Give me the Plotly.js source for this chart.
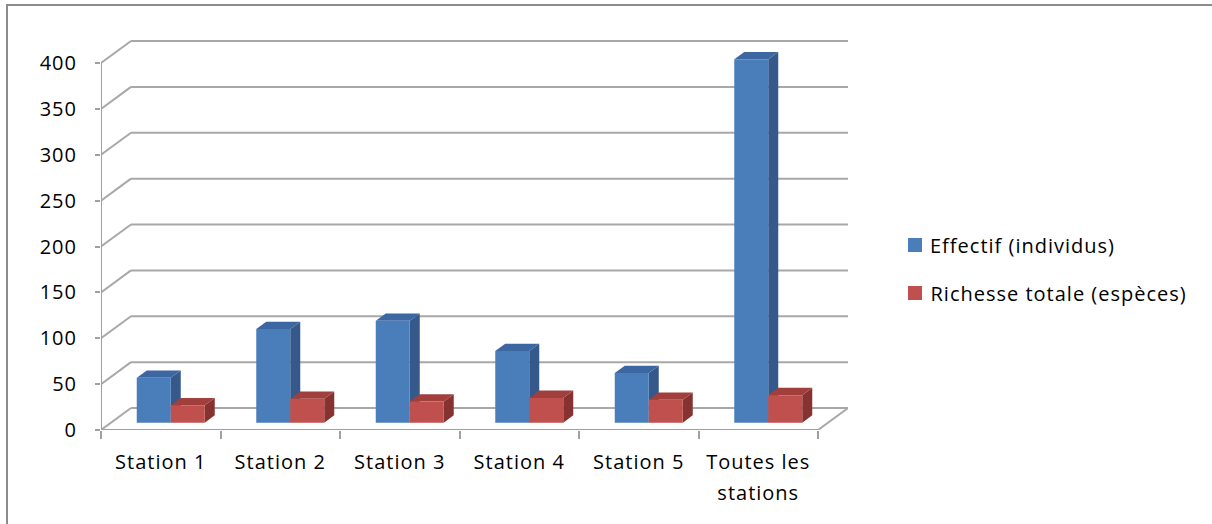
<!DOCTYPE html>
<html>
<head>
<meta charset="utf-8">
<script src="https://cdn.plot.ly/plotly-3.0.1.min.js"></script>
<style>
  html, body { margin: 0; padding: 0; background: #ffffff; }
  #wrap { position: relative; width: 1212px; height: 524px; overflow: hidden; }
  #chart { position: absolute; left: 0; top: 0; width: 1212px; height: 524px; }
  #chart text { letter-spacing: 1px; }
  /* taller line pitch for the two-line category label */
  #chart .xtick text tspan.line { font-size: 24px; }
  #frame { position: absolute; left: 6px; top: 4px; right: -4px; bottom: -4px;
           border-top: 2px solid #8c8c8c; border-left: 2px solid #8c8c8c; pointer-events: none; }
</style>
</head>
<body>
<div id="wrap">
  <div id="chart"></div>
  <div id="frame"></div>
</div>
<script>
// ---- data ----
const categories = ['Station 1', 'Station 2', 'Station 3', 'Station 4', 'Station 5', 'Toutes les stations'];
const categoryLabels = ['Station 1', 'Station 2', 'Station 3', 'Station 4', 'Station 5',
  '<span style="font-size:20px">Toutes les</span><br><span style="font-size:20px">stations</span>'];
const effectif = [49, 102, 111, 78, 54, 396];
const richesse = [19, 26, 23, 27, 25, 30];
const yTicks = [0, 50, 100, 150, 200, 250, 300, 350, 400];
const seriesNames = ['Effectif (individus)', 'Richesse totale (espèces)'];

// ---- look ----
const FONT = 'Open Sans, Lato, sans-serif';
const FONT_SIZE = 20;
const LETTER_SPACING = 1;               // px, matches the CSS rule above
const colors = {
  blue:  { front: '#4a7ebb', top: '#3d67a1', side: '#34598a' },
  red:   { front: '#c0504d', top: '#a13f3c', side: '#863230' },
  grid: '#a8a8a8',
  axis: '#a0a0a0'
};

// ---- pseudo-3D geometry (pixels) ----
const W = 1212, H = 524;
const plotL = 101, plotR = 848, plotT = 40, plotB = 430;
const frontRight = 818;                 // right end of the front floor edge
const frontTop400 = 63;                 // pixel row of the 400 tick
const catPx = (frontRight - plotL) / categories.length;
const unitPx = (plotB - frontTop400) / 400;
const depthPx = [30, 22];               // wall depth vector
const dX = depthPx[0] / catPx;          // depth in category units
const dY = depthPx[1] / unitPx;         // depth in value units
const barW = 34 / catPx;
const sx = dX / 3, sy = dY / 3;         // columns sit in the middle third of the depth

const xMax = -0.5 + (plotR - plotL) / catPx;
const yMax = (plotB - plotT) / unitPx;

const shapes = [];
function line(x0, y0, x1, y1, color) {
  shapes.push({ type: 'line', xref: 'x', yref: 'y', x0, y0, x1, y1, layer: 'below',
                line: { color, width: 2 } });
}
function poly(pts, color) {
  const d = 'M' + pts.map(p => p[0] + ',' + p[1]).join('L') + 'Z';
  shapes.push({ type: 'path', xref: 'x', yref: 'y', path: d, layer: 'below',
                fillcolor: color, line: { width: 0 } });
}

// back wall gridlines and side-wall diagonals
yTicks.forEach(v => {
  line(-0.5 + dX, v + dY, 5.5 + dX, v + dY, colors.grid);
  line(-0.5, v, -0.5 + dX, v + dY, colors.grid);
});
// floor front edge, right edge, and front vertical axis
line(-0.5, 0, 5.5, 0, colors.axis);
line(5.5, 0, 5.5 + dX, dY, colors.grid);
line(-0.5, 0, -0.5, 400, colors.axis);

// top and side faces of the columns
function faces(values, offset, c) {
  values.forEach((v, i) => {
    const x0 = i + offset, x1 = x0 + barW;
    const b = sy, t = sy + v;
    poly([[x1, b], [x1, t], [x1 + sx, t + sy], [x1 + sx, b + sy]], c.side);
    poly([[x0, t], [x1, t], [x1 + sx, t + sy], [x0 + sx, t + sy]], c.top);
  });
}
const offBlue = -barW + sx, offRed = sx;
faces(effectif, offBlue, colors.blue);
faces(richesse, offRed, colors.red);

// legend (swatches + labels)
const px2x = px => (px - plotL) / (plotR - plotL);
const px2y = py => (plotB - py) / (plotB - plotT);
const legendRows = [245, 293];
const annotations = [];
[colors.blue.front, colors.red.front].forEach((c, k) => {
  const cy = legendRows[k];
  shapes.push({ type: 'rect', xref: 'paper', yref: 'paper',
    x0: px2x(908), x1: px2x(922), y0: px2y(cy + 7), y1: px2y(cy - 7),
    fillcolor: c, line: { width: 0 } });
  // the box is measured without the extra letter spacing, so start it half of that further right
  const textLeft = 928 + seriesNames[k].length * LETTER_SPACING / 2;
  annotations.push({ xref: 'paper', yref: 'paper', x: px2x(textLeft), y: px2y(cy),
    xanchor: 'left', yanchor: 'middle', showarrow: false, text: seriesNames[k],
    font: { family: FONT, size: FONT_SIZE, color: '#000' } });
});

const traces = [
  { type: 'bar', name: seriesNames[0], x: categories, y: effectif, base: sy,
    offset: offBlue, width: barW, marker: { color: colors.blue.front, line: { width: 0 } },
    showlegend: false, hoverinfo: 'skip' },
  { type: 'bar', name: seriesNames[1], x: categories, y: richesse, base: sy,
    offset: offRed, width: barW, marker: { color: colors.red.front, line: { width: 0 } },
    showlegend: false, hoverinfo: 'skip' }
];

const layout = {
  width: W, height: H,
  margin: { l: plotL, r: W - plotR, t: plotT, b: H - plotB, pad: 0 },
  paper_bgcolor: '#ffffff', plot_bgcolor: 'rgba(0,0,0,0)',
  barmode: 'overlay',
  showlegend: false,
  font: { family: FONT, size: FONT_SIZE, color: '#000' },
  xaxis: {
    type: 'category', range: [-0.5, xMax], fixedrange: true,
    tickmode: 'array', tickvals: categories, ticktext: categoryLabels,
    tickson: 'boundaries', ticks: 'outside', ticklen: 8, tickwidth: 2, tickcolor: colors.axis,
    ticklabelstandoff: 18,
    showgrid: false, zeroline: false, showline: false,
    tickfont: { family: FONT, size: FONT_SIZE, color: '#000' }
  },
  yaxis: {
    range: [0, yMax], fixedrange: true,
    tickmode: 'array', tickvals: yTicks,
    ticks: 'outside', ticklen: 5, tickwidth: 2, tickcolor: colors.axis,
    ticklabelstandoff: 14,
    showgrid: false, zeroline: false, showline: false,
    tickfont: { family: FONT, size: FONT_SIZE, color: '#000' }
  },
  shapes, annotations
};

Plotly.newPlot('chart', traces, layout, { staticPlot: true, displayModeBar: false });
</script>
</body>
</html>
